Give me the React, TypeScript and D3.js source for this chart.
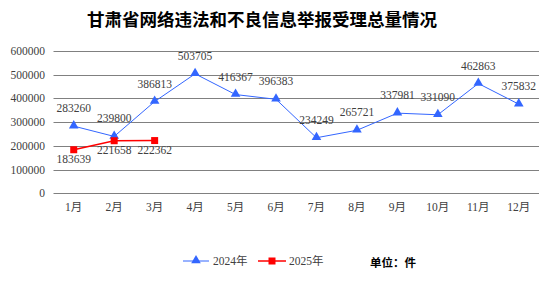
import React from "react";
import * as d3 from "d3";

const months = ["1月","2月","3月","4月","5月","6月","7月","8月","9月","10月","11月","12月"];
const values2024 = [283260,239800,386813,503705,416367,396383,234249,265721,337981,331090,462863,375832];
const values2025 = [183639,221658,222362];
const yTicks = [0,100000,200000,300000,400000,500000,600000];
const title = "甘肃省网络违法和不良信息举报受理总量情况";
const unitText = "单位：件";
const seriesNames = ["2024年","2025年"];

const W = 554, H = 282;
const BLUE = "#3366ff";
const RED = "#ff0000";
const TXT = "#404040";
const NUMFONT = "'Liberation Serif', 'Noto Sans CJK SC', serif";

export default function App() {
  const x = d3.scaleBand<string>().domain(months).range([53.5, 539]);
  const cx = (m: string) => (x(m) as number) + x.bandwidth() / 2;
  const y = d3.scaleLinear().domain([0, 600000]).range([193.3, 51]);
  const line = d3.line<number>().x((_, i) => cx(months[i])).y(d => y(d));
  const tri = d3.symbol().type(d3.symbolTriangle).size(40)();
  return (
    <svg width={W} height={H} style={{ position: "absolute", left: 0, top: 0, background: "#fff" }}>
      <text x={262} y={26} textAnchor="middle" fontFamily="'Noto Sans CJK SC', sans-serif" fontWeight="bold" fontSize={17.5} fill="#000">{title}</text>
      {yTicks.map(t => (
        <g key={t}>
          <line x1={53.5} x2={539} y1={Math.round(y(t)) + 0.5} y2={Math.round(y(t)) + 0.5} stroke="#808080" strokeWidth={1} />
          <text x={45} y={y(t) + 4} textAnchor="end" fontFamily={NUMFONT} fontSize={11.5} fill={TXT}>{d3.format("d")(t)}</text>
        </g>
      ))}
      {months.map(m => (
        <text key={m} x={cx(m)} y={211} textAnchor="middle" fontFamily={NUMFONT} fontSize={11.5} fill={TXT}>{m}</text>
      ))}
      <path d={line(values2024) || ""} fill="none" stroke={BLUE} strokeWidth={1} />
      {values2024.map((v, i) => (
        <g key={i}>
          <path d={tri || ""} transform={`translate(${cx(months[i])},${y(v) - 0.5})`} fill={BLUE} />
          <text x={cx(months[i])} y={y(v) - 14} textAnchor="middle" fontFamily={NUMFONT} fontSize={11.5} fill={TXT}>{v}</text>
        </g>
      ))}
      <path d={line(values2025) || ""} fill="none" stroke={RED} strokeWidth={1.5} />
      {values2025.map((v, i) => (
        <g key={i}>
          <rect x={cx(months[i]) - 3.5} y={y(v) - 3.5} width={7} height={7} fill={RED} />
          <text x={cx(months[i])} y={y(v) + 13} textAnchor="middle" fontFamily={NUMFONT} fontSize={11.5} fill={TXT}>{v}</text>
        </g>
      ))}
      <g>
        <line x1={183} x2={209} y1={261} y2={261} stroke={BLUE} strokeWidth={1} />
        <path d={tri || ""} transform="translate(196,260.5)" fill={BLUE} />
        <text x={213} y={265} fontFamily={NUMFONT} fontSize={11.5} fill={TXT}>{seriesNames[0]}</text>
        <line x1={258} x2={286} y1={261} y2={261} stroke={RED} strokeWidth={1.5} />
        <rect x={268.5} y={257.5} width={7} height={7} fill={RED} />
        <text x={289} y={265} fontFamily={NUMFONT} fontSize={11.5} fill={TXT}>{seriesNames[1]}</text>
        <text x={370} y={267} fontFamily="'Noto Sans CJK SC', sans-serif" fontWeight="bold" fontSize={11.5} fill="#000">{unitText}</text>
      </g>
    </svg>
  );
}
